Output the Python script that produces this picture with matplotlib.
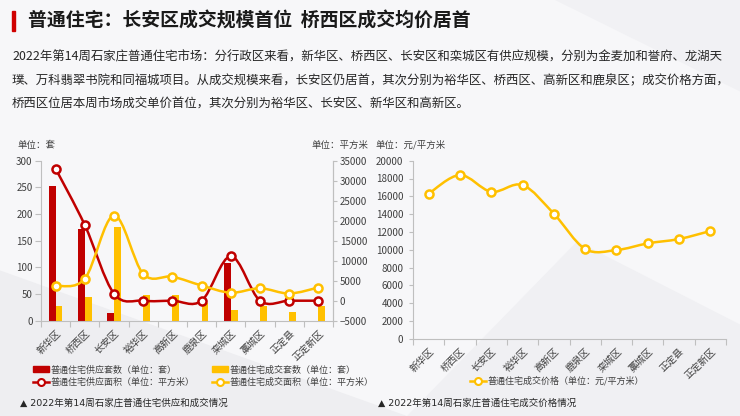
import matplotlib
matplotlib.use('Agg')
import matplotlib.pyplot as plt
from matplotlib.path import Path
from matplotlib.patches import PathPatch, Rectangle
from matplotlib.lines import Line2D
import numpy as np

plt.rcParams['font.family'] = ['Noto Sans CJK SC', 'DejaVu Sans']

districts = ['新华区', '桥西区', '长安区', '裕华区', '高新区', '鹿泉区', '栾城区', '藁城区', '正定县', '正定新区']
supply_units = [252, 172, 15, 0, 0, 0, 108, 0, 0, 0]
deal_units = [27, 44, 175, 49, 49, 33, 20, 27, 17, 27]
supply_area = [33000, 18900, 1750, 0, 0, 0, 11100, 0, 0, 0]
deal_area = [3700, 5500, 21300, 6700, 6000, 3800, 2000, 3100, 1800, 3300]
deal_price = [16290, 18390, 16510, 17260, 14040, 10080, 9960, 10710, 11200, 12100]

RED = '#C00000'
YEL = '#FFC000'
GRID = '#BFBFBF'
TXT = '#404040'


def smooth_line(ax, ys, color, lw=1.8, z=3):
    # Excel-like smoothed line: Catmull-Rom segments drawn as cubic Beziers
    xs = np.arange(len(ys), dtype=float)
    ys = np.asarray(ys, dtype=float)
    pts = np.column_stack([xs, ys])
    verts = [pts[0]]
    codes = [Path.MOVETO]
    n = len(pts)
    for i in range(n - 1):
        p0 = pts[max(i - 1, 0)]
        p1 = pts[i]
        p2 = pts[i + 1]
        p3 = pts[min(i + 2, n - 1)]
        c1 = p1 + (p2 - p0) / 6.0
        c2 = p2 - (p3 - p1) / 6.0
        verts += [c1, c2, p2]
        codes += [Path.CURVE4] * 3
    ax.add_patch(PathPatch(Path(verts, codes), fill=False, edgecolor=color,
                           lw=lw, zorder=z, capstyle='round'))
    ax.plot(xs, ys, 'o', ms=5.8, mfc='white', mec=color, mew=1.8, zorder=z + 1,
            clip_on=False)


def cat_axis(ax, labels):
    n = len(labels)
    ax.set_xlim(-0.5, n - 0.5)
    ax.set_xticks(range(n))
    ax.set_xticklabels(labels, rotation=45, ha='right', rotation_mode='anchor',
                       fontsize=7, color=TXT)
    ax.set_xticks(np.arange(-0.5, n, 1.0), minor=True)
    ax.tick_params(axis='x', which='major', length=0, pad=5)
    ax.tick_params(axis='x', which='minor', length=4, color=GRID, width=0.8)


fig = plt.figure(figsize=(7.4, 4.16), dpi=100)
fig.patch.set_facecolor('#F7F7F9')

# faint background shapes
bg = fig.add_axes([0, 0, 1, 1], zorder=-10)
bg.set_xlim(0, 1)
bg.set_ylim(0, 1)
bg.axis('off')
bg.fill([0.0, 0.0, 0.55, 0.3], [0.0, 0.35, 0.0, 0.0], color='#EEEEF1', lw=0)
bg.fill([0.55, 0.78, 1.0, 1.0], [0.0, 0.42, 0.22, 0.0], color='#F0F0F3', lw=0)
bg.fill([0.75, 1.0, 1.0], [1.0, 0.78, 1.0], color='#F1F1F4', lw=0)

# header
fig.patches.append(Rectangle((12 / 740, 1 - 31 / 416), 3 / 740, 20 / 416,
                             transform=fig.transFigure, color='#D00000'))
fig.text(28 / 740, 1 - 21 / 416, '普通住宅：长安区成交规模首位  桥西区成交均价居首',
         fontsize=13.6, fontweight='bold', color='#1A1A1A', va='center')
para = ['2022年第14周石家庄普通住宅市场：分行政区来看，新华区、桥西区、长安区和栾城区有供应规模，分别为金麦加和誉府、龙湖天',
        '璞、万科翡翠书院和同福城项目。从成交规模来看，长安区仍居首，其次分别为裕华区、桥西区、高新区和鹿泉区；成交价格方面，',
        '桥西区位居本周市场成交单价首位，其次分别为裕华区、长安区、新华区和高新区。']
for i, line in enumerate(para):
    fig.text(12 / 740, 1 - (57 + i * 23.5) / 416, line, fontsize=8.95,
             color='#262626', va='center')

# left chart
ax = fig.add_axes([41 / 740, 1 - 320.7 / 416, 292 / 740, 160 / 416])
ax.set_facecolor('none')
x = np.arange(len(districts))
w = 0.23
ax.bar(x - w / 2, supply_units, w, color=RED, zorder=2)
ax.bar(x + w / 2, deal_units, w, color=YEL, zorder=2)
ax.set_ylim(0, 300)
ax.set_yticks(range(0, 301, 50))
cat_axis(ax, districts)
ax.tick_params(axis='y', length=4, color=GRID, width=0.8, labelsize=7,
               labelcolor=TXT, pad=2)
ax.spines['top'].set_visible(False)
for s in ['left', 'bottom', 'right']:
    ax.spines[s].set_color(GRID)
    ax.spines[s].set_linewidth(0.8)

ax2 = ax.twinx()
ax2.set_ylim(-5000, 35000)
ax2.set_yticks(range(-5000, 35001, 5000))
ax2.tick_params(axis='y', length=3, color=GRID, width=0.8, labelsize=7,
                labelcolor=TXT, pad=2)
for s in ['top', 'left', 'bottom']:
    ax2.spines[s].set_visible(False)
ax2.spines['right'].set_color(GRID)
smooth_line(ax2, supply_area, RED)
smooth_line(ax2, deal_area, YEL)

fig.text(17 / 740, 1 - 145 / 416, '单位：套', fontsize=6.8, color=TXT, va='center')
fig.text(368 / 740, 1 - 145 / 416, '单位：平方米', fontsize=6.8, color=TXT,
         va='center', ha='right')

handles = [Rectangle((0, 0), 1, 1, color=RED),
           Rectangle((0, 0), 1, 1, color=YEL),
           Line2D([], [], color=RED, lw=1.8, marker='o', ms=5, mfc='white', mec=RED, mew=1.5),
           Line2D([], [], color=YEL, lw=1.8, marker='o', ms=5, mfc='white', mec=YEL, mew=1.5)]
labels = ['普通住宅供应套数（单位：套）', '普通住宅成交套数（单位：套）',
          '普通住宅供应面积（单位：平方米）', '普通住宅成交面积（单位：平方米）']
order = [0, 2, 1, 3]
leg = fig.legend([handles[i] for i in order], [labels[i] for i in order],
                 ncol=2, loc='center left', bbox_to_anchor=(33 / 740, 1 - 376 / 416),
                 frameon=False, fontsize=6.5, handlelength=1.8, handleheight=0.6,
                 handletextpad=0.1, columnspacing=2.0, labelspacing=0.35,
                 borderaxespad=0, borderpad=0)
for t in leg.get_texts():
    t.set_color(TXT)
fig.text(20 / 740, 1 - 403 / 416, '▲ 2022年第14周石家庄普通住宅供应和成交情况',
         fontsize=6.8, color='#262626', va='center', family=['DejaVu Sans', 'Noto Sans CJK SC'])

# right chart
axr = fig.add_axes([413 / 740, 1 - 338.7 / 416, 313 / 740, 178 / 416])
axr.set_facecolor('none')
axr.set_ylim(0, 20000)
axr.set_yticks(range(0, 20001, 2000))
cat_axis(axr, districts)
axr.tick_params(axis='y', length=3, color=GRID, width=0.8, labelsize=7,
                labelcolor=TXT, pad=4)
for s in ['top', 'right']:
    axr.spines[s].set_visible(False)
for s in ['left', 'bottom']:
    axr.spines[s].set_color(GRID)
    axr.spines[s].set_linewidth(0.8)
smooth_line(axr, deal_price, YEL)

fig.text(375 / 740, 1 - 145 / 416, '单位：元/平方米', fontsize=6.8, color=TXT, va='center')
legr = fig.legend([Line2D([], [], color=YEL, lw=1.8, marker='o', ms=5, mfc='white', mec=YEL, mew=1.5)],
                  ['普通住宅成交价格（单位：元/平方米）'], loc='center left',
                  bbox_to_anchor=(470 / 740, 1 - 381 / 416), frameon=False,
                  fontsize=6.5, handlelength=1.8, handletextpad=0.1,
                  borderaxespad=0, borderpad=0)
for t in legr.get_texts():
    t.set_color(TXT)
fig.text(378 / 740, 1 - 403 / 416, '▲ 2022年第14周石家庄普通住宅成交价格情况',
         fontsize=6.8, color='#262626', va='center', family=['DejaVu Sans', 'Noto Sans CJK SC'])

fig.savefig('out.png', dpi=100, facecolor=fig.get_facecolor())
